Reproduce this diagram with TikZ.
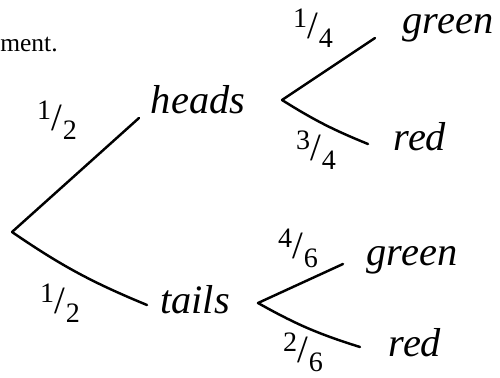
\documentclass[tikz,border=0pt]{standalone}
\usepackage{fontspec}
\setmainfont{Liberation Serif}
\usetikzlibrary{positioning}
\newcommand{\handfrac}[2]{\raisebox{.3em}{\fontsize{16}{18}\selectfont#1}\kern.01em/\kern.01em\raisebox{-.22em}{\fontsize{16}{18}\selectfont#2}}

\begin{document}
\begin{tikzpicture}[x=0.02cm, y=-0.02cm,
    every node/.style={font=\fontsize{23}{26}\selectfont\itshape},
    branch/.style={line width=1.4pt, line cap=round},
    prob/.style={font=\fontsize{22}{24}\selectfont, inner sep=1pt}]
  \useasboundingbox (0,0) rectangle (500,378);
  % Text cut off at the left edge
  \node[font=\fontsize{14.5}{16}\selectfont, anchor=west, inner sep=0pt] (ment) at (0,45) {ment.};

  % First stage: coin
  \coordinate (root) at (12,232);
  \coordinate (hEnd) at (139,118);
  \coordinate (tEnd) at (147,305);
  \node (heads) at (198,100) {heads};
  \node (tails) at (195,300) {tails};
  \draw[branch] (root) -- (hEnd);
  \draw[branch] (root) to[bend right=6] (tEnd);
  \node[prob] (pH) at (57,120) {\handfrac{1}{2}};
  \node[prob] (pT) at (60,303) {\handfrac{1}{2}};

  % Second stage after heads
  \coordinate (hFork) at (282,100);
  \coordinate (hgEnd) at (375,38);
  \coordinate (hrEnd) at (368,144);
  \node (hGreen) at (448,28) {green};
  \node (hRed) at (420,137) {red};
  \draw[branch] (hFork) -- (hgEnd);
  \draw[branch] (hFork) to[bend right=5] (hrEnd);
  \node[prob] (pHG) at (313,28) {\handfrac{1}{4}};
  \node[prob] (pHR) at (316,150) {\handfrac{3}{4}};

  % Second stage after tails
  \coordinate (tFork) at (258,303);
  \coordinate (tgEnd) at (343,264);
  \coordinate (trEnd) at (360,347);
  \node (tGreen) at (412,260) {green};
  \node (tRed) at (415,343) {red};
  \draw[branch] (tFork) -- (tgEnd);
  \draw[branch] (tFork) to[bend right=6] (trEnd);
  \node[prob] (pTG) at (298,248) {\handfrac{4}{6}};
  \node[prob] (pTR) at (303,352) {\handfrac{2}{6}};
\end{tikzpicture}
\end{document}
